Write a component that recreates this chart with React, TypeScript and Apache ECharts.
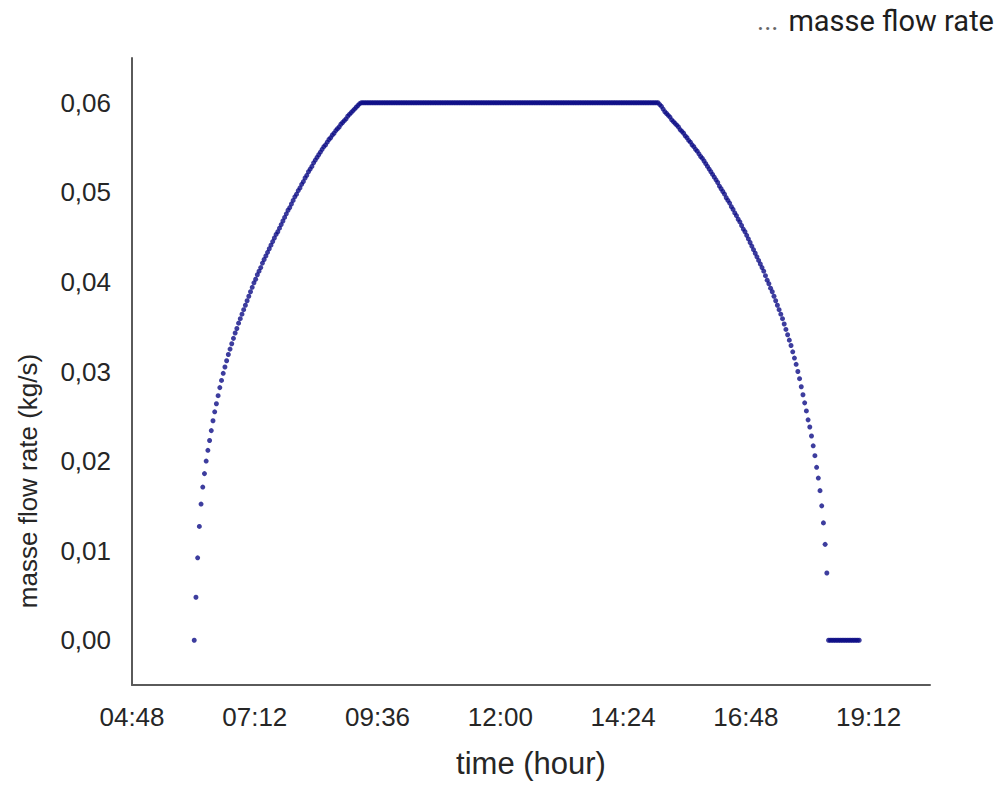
import { useEffect, useRef } from "react";
import * as echarts from "echarts";

// Samples are logged every 2 minutes, the first one at 06:01 (minutes since midnight).
const START_MIN = 361;
const STEP_MIN = 2;

// Morning ramp-up, 06:01 - 09:15 (kg/s)
const riseValues = [
  0.0, 0.0048, 0.0092, 0.0127, 0.0152, 0.0171, 0.0186, 0.02, 0.0212, 0.0223,
  0.0234, 0.0245, 0.0255, 0.0264, 0.0273, 0.0282, 0.029, 0.0298, 0.0305, 0.0312,
  0.0319, 0.0325, 0.0331, 0.0337, 0.0343, 0.0348, 0.0354, 0.0359, 0.0364, 0.0369,
  0.0374, 0.0379, 0.0384, 0.0389, 0.0394, 0.0399, 0.0403, 0.0408, 0.0412, 0.0416,
  0.0421, 0.0425, 0.0429, 0.0433, 0.0437, 0.0441, 0.0445, 0.0449, 0.0453, 0.0456,
  0.046, 0.0464, 0.0468, 0.0472, 0.0476, 0.048, 0.0483, 0.0487, 0.0491, 0.0495,
  0.0498, 0.0502, 0.0505, 0.0509, 0.0512, 0.0516, 0.0519, 0.0523, 0.0526, 0.0529,
  0.0533, 0.0536, 0.0539, 0.0542, 0.0545, 0.0548, 0.0551, 0.0553, 0.0556, 0.0559,
  0.0561, 0.0564, 0.0566, 0.0569, 0.0571, 0.0573, 0.0576, 0.0578, 0.058, 0.0582,
  0.0585, 0.0587, 0.0589, 0.0591, 0.0593, 0.0595, 0.0597, 0.0599,
];

// Pump at its rated flow, 09:17 - 15:05
const plateauValues = [
  0.06, 0.06, 0.06, 0.06, 0.06, 0.06, 0.06, 0.06, 0.06, 0.06, 0.06, 0.06, 0.06, 0.06, 0.06, 0.06, 0.06, 0.06, 0.06, 0.06, 0.06, 0.06, 0.06, 0.06, 0.06,
  0.06, 0.06, 0.06, 0.06, 0.06, 0.06, 0.06, 0.06, 0.06, 0.06, 0.06, 0.06, 0.06, 0.06, 0.06, 0.06, 0.06, 0.06, 0.06, 0.06, 0.06, 0.06, 0.06, 0.06, 0.06,
  0.06, 0.06, 0.06, 0.06, 0.06, 0.06, 0.06, 0.06, 0.06, 0.06, 0.06, 0.06, 0.06, 0.06, 0.06, 0.06, 0.06, 0.06, 0.06, 0.06, 0.06, 0.06, 0.06, 0.06, 0.06,
  0.06, 0.06, 0.06, 0.06, 0.06, 0.06, 0.06, 0.06, 0.06, 0.06, 0.06, 0.06, 0.06, 0.06, 0.06, 0.06, 0.06, 0.06, 0.06, 0.06, 0.06, 0.06, 0.06, 0.06, 0.06,
  0.06, 0.06, 0.06, 0.06, 0.06, 0.06, 0.06, 0.06, 0.06, 0.06, 0.06, 0.06, 0.06, 0.06, 0.06, 0.06, 0.06, 0.06, 0.06, 0.06, 0.06, 0.06, 0.06, 0.06, 0.06,
  0.06, 0.06, 0.06, 0.06, 0.06, 0.06, 0.06, 0.06, 0.06, 0.06, 0.06, 0.06, 0.06, 0.06, 0.06, 0.06, 0.06, 0.06, 0.06, 0.06, 0.06, 0.06, 0.06, 0.06, 0.06,
  0.06, 0.06, 0.06, 0.06, 0.06, 0.06, 0.06, 0.06, 0.06, 0.06, 0.06, 0.06, 0.06, 0.06, 0.06, 0.06, 0.06, 0.06, 0.06, 0.06, 0.06, 0.06, 0.06, 0.06, 0.06,
];

// Afternoon ramp-down, 15:07 - 18:23
const fallValues = [
  0.0598, 0.0596, 0.0593, 0.059, 0.0588, 0.0586, 0.0584, 0.0581, 0.0579, 0.0577,
  0.0575, 0.0573, 0.057, 0.0568, 0.0566, 0.0563, 0.0561, 0.0558, 0.0556, 0.0553,
  0.0551, 0.0548, 0.0546, 0.0543, 0.054, 0.0538, 0.0535, 0.0532, 0.0529, 0.0526,
  0.0523, 0.052, 0.0517, 0.0514, 0.0511, 0.0507, 0.0504, 0.0501, 0.0498, 0.0494,
  0.0491, 0.0488, 0.0484, 0.0481, 0.0477, 0.0474, 0.047, 0.0467, 0.0463, 0.0459,
  0.0456, 0.0452, 0.0448, 0.0444, 0.044, 0.0436, 0.0432, 0.0428, 0.0424, 0.042,
  0.0416, 0.0412, 0.0407, 0.0402, 0.0398, 0.0393, 0.0389, 0.0384, 0.0379, 0.0374,
  0.0369, 0.0364, 0.0359, 0.0353, 0.0347, 0.0341, 0.0335, 0.0329, 0.0322, 0.0315,
  0.0308, 0.03, 0.0292, 0.0283, 0.0274, 0.0265, 0.0256, 0.0246, 0.0238, 0.0228,
  0.0217, 0.0206, 0.0193, 0.0181, 0.0167, 0.015, 0.0131, 0.0107, 0.0075,
];

// Pump stopped, 18:25 - 19:01
const tailValues = [
  0, 0, 0, 0, 0, 0, 0, 0, 0, 0, 0, 0, 0, 0, 0, 0, 0, 0, 0,
];

const flowValues = [...riseValues, ...plateauValues, ...fallValues, ...tailValues];
const flowData = flowValues.map((v, i) => [START_MIN + i * STEP_MIN, v]);

const X_MIN = 288; // 04:48
const X_MAX = 1224; // 20:24
const X_STEP = 144; // 2 h 24 min

const FONT = "'Liberation Sans', Arial, sans-serif";
const LEGEND_FONT = "Roboto, 'Liberation Sans', sans-serif";
const TEXT = "#262626";
const AXIS = "#5a5a5a";
const MARK = "#0c0c86";

const pad = (n: number) => String(n).padStart(2, "0");
const hhmm = (m: number) => `${pad(Math.floor(m / 60))}:${pad(Math.round(m % 60))}`;

export default function App() {
  const ref = useRef<HTMLDivElement>(null);

  useEffect(() => {
    if (!ref.current) return;
    const chart = echarts.init(ref.current, undefined, { renderer: "svg" });
    chart.setOption({
      animation: false,
      backgroundColor: "#ffffff",
      textStyle: { fontFamily: FONT },
      grid: { left: 132, right: 70, top: 58, bottom: 101, containLabel: false },
      legend: {
        right: 6,
        top: 6,
        padding: 0,
        icon: "none",
        itemWidth: 0,
        itemGap: 0,
        data: ["masse flow rate"],
        formatter: (name: string) => `{d|...}   {n|${name}}`,
        textStyle: {
          rich: {
            d: { color: "#666", fontSize: 27, fontFamily: LEGEND_FONT },
            n: { color: "#1e1e1e", fontSize: 29, fontFamily: LEGEND_FONT },
          },
        },
      },
      xAxis: {
        type: "value",
        min: X_MIN,
        max: X_MAX,
        interval: X_STEP,
        name: "time (hour)",
        nameLocation: "middle",
        nameGap: 63,
        nameTextStyle: { fontSize: 31, color: TEXT, fontFamily: FONT },
        axisLine: { show: true, onZero: false, lineStyle: { color: AXIS, width: 2 } },
        axisTick: { show: false },
        splitLine: { show: false },
        axisLabel: {
          margin: 19,
          fontSize: 26,
          color: TEXT,
          fontFamily: FONT,
          showMaxLabel: false,
          formatter: (v: number) => hhmm(v),
        },
      },
      yAxis: {
        type: "value",
        min: -0.005,
        max: 0.065,
        interval: 0.005,
        axisLine: { show: true, lineStyle: { color: AXIS, width: 2 } },
        axisTick: { show: false },
        splitLine: { show: false },
        axisLabel: {
          margin: 21,
          fontSize: 26,
          color: TEXT,
          fontFamily: FONT,
          formatter: (v: number) => {
            const r = Math.round(v * 1000);
            if (r < 0 || r % 10 !== 0) return "";
            return (r / 1000).toFixed(2).replace(".", ",");
          },
        },
      },
      graphic: [
        {
          type: "text",
          x: 28,
          y: 481,
          rotation: Math.PI / 2,
          style: {
            text: "masse flow rate (kg/s)",
            fontSize: 26,
            fontFamily: FONT,
            fill: TEXT,
            align: "center",
            verticalAlign: "middle",
          },
        },
      ],
      series: [
        {
          name: "masse flow rate",
          type: "scatter",
          data: flowData,
          symbol: "circle",
          symbolSize: 5,
          itemStyle: { color: MARK },
        },
      ],
    });
    return () => chart.dispose();
  }, []);

  return (
    <div
      ref={ref}
      style={{ position: "absolute", left: 0, top: 0, width: 1000, height: 786 }}
    />
  );
}
